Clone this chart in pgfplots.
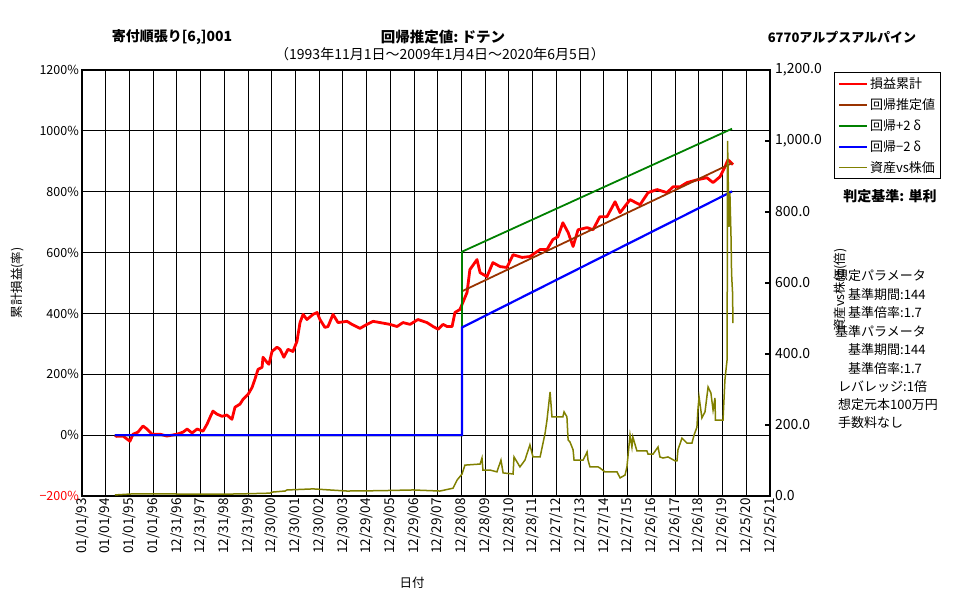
\documentclass[border=0pt]{standalone}
\usepackage{fontspec}
\setmainfont{Noto Sans CJK JP}
\usepackage{pgfplots}
\usepackage{pgfplotstable}
\pgfplotsset{compat=1.18}
\definecolor{xred}{RGB}{255,0,0}
\definecolor{xbrown}{RGB}{153,51,0}
\definecolor{xgreen}{RGB}{0,128,0}
\definecolor{xblue}{RGB}{0,0,255}
\definecolor{xolive}{RGB}{128,128,0}

\pgfplotstableread{
x y
1994.39 0
1994.46 -4
1994.73 -3
1995.02 -20
1995.15 3
1995.36 10
1995.57 30
1995.74 20
1995.95 3
1996.29 3
1996.58 -3
1997.00 3
1997.26 10
1997.43 20
1997.64 7
1997.85 20
1998.10 13
1998.27 36
1998.40 59
1998.52 79
1998.69 69
1998.90 62
1999.11 66
1999.32 52
1999.45 92
1999.66 102
1999.79 118
2000.00 134
2000.17 157
2000.29 184
2000.42 216
2000.59 223
2000.63 256
2000.80 239
2000.88 233
2001.01 275
2001.22 289
2001.35 282
2001.51 256
2001.68 282
2001.89 275
2002.06 308
2002.19 370
2002.32 397
2002.48 380
2002.74 397
2002.91 403
2003.03 380
2003.24 354
2003.37 357
2003.58 397
2003.79 370
2004.17 374
2004.38 364
2004.72 351
2005.01 364
2005.27 374
2005.56 370
2005.98 364
2006.28 357
2006.53 370
2006.83 364
2007.16 380
2007.54 370
2007.80 357
2008.01 348
2008.22 364
2008.39 357
2008.60 357
2008.72 403
2008.93 413
2009.23 469
2009.35 544
2009.65 577
2009.78 534
2010.07 521
2010.32 567
2010.62 554
2010.91 551
2011.17 593
2011.55 584
2011.88 587
2012.31 610
2012.60 610
2012.85 643
2013.06 652
2013.27 698
2013.49 666
2013.70 620
2013.91 675
2014.29 682
2014.54 675
2014.83 718
2015.13 718
2015.47 767
2015.68 731
2016.10 774
2016.52 757
2016.86 797
2017.24 807
2017.66 797
2017.91 816
2018.21 816
2018.50 830
2018.92 839
2019.34 846
2019.60 830
2019.89 849
2020.10 882
2020.23 905
2020.44 889
}\redtab

\pgfplotstableread{
x y
1994.39 0
2009.02 0
2009.02 473
2020.40 894
}\browntab

\pgfplotstableread{
x y
1994.39 0
2009.02 0
2009.02 603
2020.40 1007
}\greentab

\pgfplotstableread{
x y
1994.39 0
2009.02 0
2009.02 354
2020.40 801
}\bluetab

\pgfplotstableread{
x y
1994.39 3
1995.15 6
1995.95 6
1998.73 5
1999.74 6
2000.92 8
2001.01 11
2001.56 14
2001.64 17
2002.74 20
2003.45 17
2004.17 14
2005.56 15
2006.95 17
2008.09 14
2008.64 22
2008.81 45
2009.02 62
2009.14 87
2009.78 90
2009.86 107
2009.90 73
2010.20 73
2010.49 68
2010.66 101
2010.75 65
2011.17 62
2011.21 110
2011.46 82
2011.67 101
2011.88 144
2012.01 110
2012.31 110
2012.52 177
2012.60 214
2012.73 293
2012.81 223
2013.27 223
2013.32 237
2013.44 223
2013.49 158
2013.57 152
2013.70 130
2013.74 101
2014.12 101
2014.29 124
2014.33 101
2014.41 82
2014.75 82
2014.83 79
2015.04 68
2015.55 68
2015.68 51
2015.89 59
2015.97 82
2016.10 172
2016.18 138
2016.22 166
2016.39 127
2016.81 127
2016.86 118
2017.07 118
2017.28 138
2017.36 110
2017.49 107
2017.70 110
2018.00 99
2018.08 99
2018.12 130
2018.29 163
2018.50 149
2018.71 149
2018.80 172
2018.92 194
2018.96 242
2019.01 279
2019.13 220
2019.26 237
2019.39 307
2019.51 290
2019.60 242
2019.68 276
2019.70 214
2020.02 214
2020.10 327
2020.19 383
2020.20 628
2020.21 1000
2020.23 927
2020.27 758
2020.31 853
2020.36 721
2020.38 628
2020.40 600
2020.42 575
2020.44 487
}\olivetab

\newcommand{\fs}[1]{\fontsize{#1}{#1}\selectfont}

\begin{document}
\begin{tikzpicture}
\useasboundingbox (-82pt,-104pt) rectangle (895pt,496pt);
\begin{axis}[
  at={(0,0)}, anchor=south west,
  scale only axis, width=688pt, height=426pt,
  xmin=1993, xmax=2022, ymin=-200, ymax=1200,
  xtick={1993,...,2022},
  xticklabels={01/01/93,01/01/94,01/01/95,01/01/96,12/31/96,12/31/97,12/31/98,12/31/99,12/30/00,12/30/01,12/30/02,12/30/03,12/29/04,12/29/05,12/29/06,12/29/07,12/28/08,12/28/09,12/28/10,12/28/11,12/27/12,12/27/13,12/27/14,12/27/15,12/26/16,12/26/17,12/26/18,12/26/19,12/25/20,12/25/21},
  x tick label style={rotate=90, anchor=east, font=\fs{13.5}, inner sep=2pt},
  ytick={-200,0,200,400,600,800,1000,1200},
  yticklabels={{\color{red}−200\%},0\%,200\%,400\%,600\%,800\%,1000\%,1200\%},
  y tick label style={font=\fs{12.5}, inner sep=3pt},
  /pgf/number format/assume math mode=true,
  grid=major,
  major grid style={black, line width=1pt},
  axis line style={black, line width=1.1pt},
  major tick length=0pt,
]
\addplot[xred, line width=2.8pt, line join=round] table[x=x,y=y] {\redtab};
\addplot[xbrown, line width=1.8pt] table[x=x,y=y] {\browntab};
\addplot[xgreen, line width=1.8pt] table[x=x,y=y] {\greentab};
\addplot[xblue, line width=2.2pt] table[x=x,y=y] {\bluetab};
\end{axis}
\begin{axis}[
  at={(0,0)}, anchor=south west,
  scale only axis, width=688pt, height=426pt,
  xmin=1993, xmax=2022, ymin=0, ymax=1200,
  axis x line=none, axis y line*=right,
  ytick={0,200,400,600,800,1000,1200},
  yticklabels={0.0,200.0,400.0,600.0,800.0,{1,000.0},{1,200.0}},
  y tick label style={font=\fs{14}, anchor=west, inner sep=5pt},
  /pgf/number format/assume math mode=true,
  axis line style={black, line width=1.1pt},
  tick style={black, line width=1.1pt},
  major tick length=5pt, tick align=inside,
  legend style={at={(1.093,0.995)}, anchor=north west, draw=black, line width=1pt,
    font=\fs{13}, inner sep=3pt, row sep=4.5pt, cells={anchor=west}},
  legend cell align=left,
  legend image code/.code={\draw[#1] (0pt,0pt) -- (28pt,0pt);},
]
\addlegendimage{xred, line width=2.6pt}
\addlegendentry{損益累計}
\addlegendimage{xbrown, line width=1.8pt}
\addlegendentry{回帰推定値}
\addlegendimage{xgreen, line width=1.8pt}
\addlegendentry{回帰+2 δ}
\addlegendimage{xblue, line width=2.2pt}
\addlegendentry{回帰−2 δ}
\addplot[xolive, line width=1.5pt] table[x=x,y=y] {\olivetab};
\addlegendentry{資産vs株価}
\end{axis}
% titles
\node[font=\bfseries\fs{14}] at (90pt,459pt) {寄付順張り[6,]001};
\node[font=\bfseries\fs{14.5}] at (361pt,459pt) {回帰推定値:\ ドテン};
\node[font=\bfseries\fs{13}] at (760pt,459pt) {6770アルプスアルパイン};
\node[font=\fs{14}] at (358pt,442pt) {（1993年11月1日～2009年1月4日～2020年6月5日）};
\node[font=\bfseries\fs{14}] at (808pt,300pt) {判定基準: 単利};
% axis titles
\node[font=\fs{12.5}, rotate=90] at (-65pt,213pt) {累計損益(率)};
\node[font=\fs{12.5}, rotate=90] at (758pt,206pt) {資産vs株価(倍)};
\node[font=\fs{12.5}] at (330pt,-87pt) {日付};
% notes
\begin{scope}[every node/.style={anchor=west, font=\fs{13}, inner sep=0pt}]
\node at (753pt,220pt) {想定パラメータ};
\node at (766pt,201pt) {基準期間:144};
\node at (766pt,183pt) {基準倍率:1.7};
\node at (753pt,164pt) {基準パラメータ};
\node at (766pt,146pt) {基準期間:144};
\node at (766pt,127pt) {基準倍率:1.7};
\node at (756pt,109pt) {レバレッジ:1倍};
\node at (756pt,91pt) {想定元本100万円};
\node at (756pt,73pt) {手数料なし};
\end{scope}
\end{tikzpicture}
\end{document}
